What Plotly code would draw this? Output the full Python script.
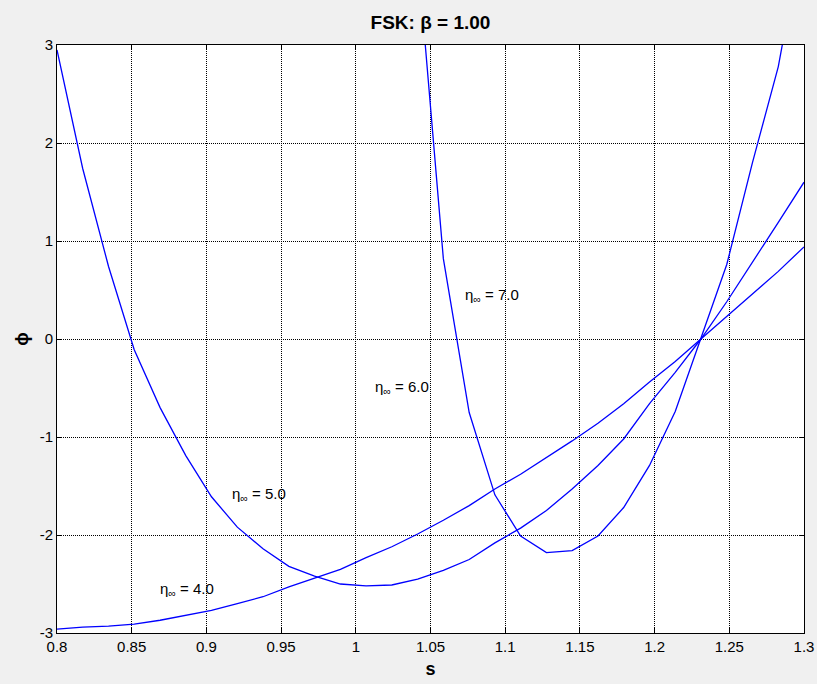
import plotly.graph_objects as go

# s grid the curves were sampled at
s = [0.8, 0.8172, 0.8345, 0.8517, 0.869, 0.8862, 0.9034, 0.9207, 0.9379, 0.9552,
     0.9724, 0.9897, 1.0069, 1.0241, 1.0414, 1.0586, 1.0759, 1.0931, 1.1103, 1.1276,
     1.1448, 1.1621, 1.1793, 1.1966, 1.2138, 1.231, 1.2483, 1.2655, 1.2828, 1.3]

phi_eta4 = [-2.96, -2.94, -2.93, -2.91, -2.87, -2.82, -2.77, -2.70, -2.63, -2.53,
            -2.44, -2.35, -2.23, -2.12, -1.99, -1.85, -1.70, -1.53, -1.38, -1.21,
            -1.04, -0.86, -0.66, -0.44, -0.23, 0.0, 0.23, 0.46, 0.69, 0.94]

phi_eta5 = [2.95, 1.74, 0.74, -0.11, -0.70, -1.19, -1.61, -1.92, -2.14, -2.32,
            -2.42, -2.50, -2.52, -2.51, -2.45, -2.36, -2.25, -2.08, -1.93, -1.75,
            -1.53, -1.29, -1.02, -0.66, -0.34, 0.0, 0.38, 0.78, 1.19, 1.60]

phi_eta6 = [None] * 14 + [3.92, 0.82, -0.75, -1.59, -2.01, -2.18,
                          -2.16, -2.01, -1.72, -1.29, -0.74, 0.0, 0.76, 1.80, 2.78, 4.2]

labels = ["4.0", "5.0", "6.0", "7.0"]
label_s = [0.8676, 0.9158, 1.0115, 1.0718]
label_phi = [-2.56, -1.59, -0.49, 0.44]

x_ticks = [0.8, 0.85, 0.9, 0.95, 1, 1.05, 1.1, 1.15, 1.2, 1.25, 1.3]
x_ticktext = ["0.8", "0.85", "0.9", "0.95", "1", "1.05", "1.1", "1.15", "1.2", "1.25", "1.3"]
y_ticks = [-3, -2, -1, 0, 1, 2, 3]
y_ticktext = ["-3", "-2", "-1", "0", "1", "2", "3"]

FONT = "Arial, Liberation Sans, sans-serif"

fig = go.Figure()
for y in (phi_eta4, phi_eta5, phi_eta6):
    fig.add_trace(go.Scatter(x=s, y=y, mode="lines",
                             line=dict(color="#0000ff", width=1.3),
                             showlegend=False, connectgaps=False))

for txt, xs, yp in zip(labels, label_s, label_phi):
    fig.add_annotation(x=xs, y=yp, text=f"η<sub>∞</sub> = {txt}",
                       showarrow=False, xanchor="left", yanchor="middle",
                       font=dict(family=FONT, size=15, color="black"))

axis_common = dict(
    showline=True, linecolor="black", linewidth=1, mirror="allticks",
    ticks="inside", ticklen=5, tickcolor="black", automargin=False,
    showgrid=True, gridcolor="black", griddash="1px,1px", gridwidth=1,
    zeroline=False, tickfont=dict(family=FONT, size=15, color="black"),
)

fig.update_xaxes(range=[0.8, 1.3], tickvals=x_ticks, ticktext=x_ticktext,
                 title=dict(text="<b>s</b>", font=dict(family=FONT, size=18, color="black"), standoff=8),
                 **axis_common)
fig.update_yaxes(range=[-3, 3], tickvals=y_ticks, ticktext=y_ticktext,
                 title=dict(text="<b>ϕ</b>", font=dict(family=FONT, size=18, color="black"), standoff=6),
                 **axis_common)

fig.update_layout(
    width=817, height=684,
    margin=dict(l=57, r=13, t=45, b=51),
    paper_bgcolor="#f0f0f0", plot_bgcolor="white",
    title=dict(text="<b>FSK: β = 1.00</b>", x=0.5, xref="paper", xanchor="center",
               y=1 - 22 / 684, yref="container", yanchor="middle",
               font=dict(family=FONT, size=19, color="black")),
)

fig.write_html("out.html", config={"displayModeBar": False},
               post_script="document.body.style.margin='0';")
